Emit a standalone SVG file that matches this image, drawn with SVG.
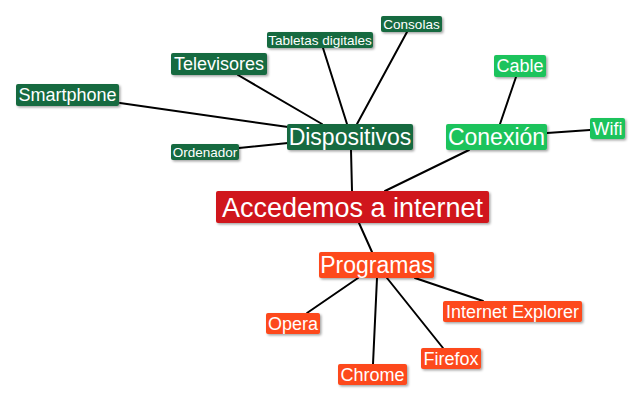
<svg xmlns="http://www.w3.org/2000/svg" width="640" height="401" viewBox="0 0 640 401">
<defs>
<filter id="sh" x="-10%" y="-20%" width="130%" height="160%">
<feDropShadow dx="1.5" dy="1.5" stdDeviation="1" flood-color="#000" flood-opacity="0.35"/>
</filter>
<style>
.c line{stroke:#000;stroke-width:2;stroke-linecap:round}
rect{rx:2;ry:2;filter:url(#sh)}
text{font-family:"Liberation Sans",Arial,sans-serif;fill:#fff;text-anchor:middle}
.dg rect{fill:#166a3f}
.lg rect{fill:#1fc35c}
.rd rect{fill:#d0171b}
.or rect{fill:#fd4a1c}
.s27{font-size:27px}
.s23{font-size:23px}
.s18{font-size:18px}
.s13{font-size:13.5px}
</style>
</defs>
<rect x="0" y="0" width="640" height="401" style="fill:#fff;filter:none"/>
<g class="c" id="connectors">
<line x1="120" y1="103" x2="288" y2="127"/>
<line x1="238" y1="75" x2="322" y2="124"/>
<line x1="239" y1="148" x2="288" y2="143"/>
<line x1="323" y1="48" x2="347" y2="124"/>
<line x1="407" y1="32" x2="357" y2="124"/>
<line x1="351" y1="150" x2="352" y2="191"/>
<line x1="469" y1="150" x2="385" y2="191"/>
<line x1="516" y1="77" x2="500" y2="124"/>
<line x1="590" y1="130" x2="547" y2="133"/>
<line x1="359" y1="223" x2="372" y2="252"/>
<line x1="358" y1="278" x2="307" y2="313"/>
<line x1="377" y1="278" x2="373" y2="364"/>
<line x1="387" y1="278" x2="443" y2="348"/>
<line x1="415" y1="278" x2="483" y2="301"/>
</g>
<g id="accedemos" class="rd"><rect x="216" y="191" width="273" height="32"/><text class="s27" x="352.5" y="216.5">Accedemos a internet</text></g>
<g id="dispositivos" class="dg"><rect x="287" y="124" width="126" height="26"/><text class="s23" x="350" y="145">Dispositivos</text></g>
<g id="conexion" class="lg"><rect x="446" y="124" width="101" height="26"/><text class="s23" x="496.5" y="145">Conexión</text></g>
<g id="programas" class="or"><rect x="319" y="252" width="115" height="26"/><text class="s23" x="376.5" y="273">Programas</text></g>
<g id="smartphone" class="dg"><rect x="16" y="84" width="103" height="22"/><text class="s18" x="67.5" y="101.3">Smartphone</text></g>
<g id="televisores" class="dg"><rect x="171" y="53" width="96" height="22"/><text class="s18" x="219" y="70.3">Televisores</text></g>
<g id="tabletas" class="dg"><rect x="267" y="32" width="106" height="16"/><text class="s13" x="320" y="44.7">Tabletas digitales</text></g>
<g id="consolas" class="dg"><rect x="381" y="16" width="61" height="16"/><text class="s13" x="411.5" y="28.7">Consolas</text></g>
<g id="ordenador" class="dg"><rect x="171" y="144" width="68" height="16"/><text class="s13" x="205" y="156.7">Ordenador</text></g>
<g id="cable" class="lg"><rect x="494" y="55" width="52" height="22"/><text class="s18" x="520" y="72.3">Cable</text></g>
<g id="wifi" class="lg"><rect x="590" y="118" width="35" height="21"/><text class="s18" x="607.5" y="134.8">Wifi</text></g>
<g id="opera" class="or"><rect x="266" y="313" width="54" height="21"/><text class="s18" x="293" y="329.8">Opera</text></g>
<g id="chrome" class="or"><rect x="338" y="364" width="69" height="21"/><text class="s18" x="372.5" y="380.8">Chrome</text></g>
<g id="firefox" class="or"><rect x="421" y="348" width="60" height="21"/><text class="s18" x="451" y="364.8">Firefox</text></g>
<g id="explorer" class="or"><rect x="443" y="301" width="139" height="21"/><text class="s18" x="512.5" y="317.8">Internet Explorer</text></g>
</svg>
